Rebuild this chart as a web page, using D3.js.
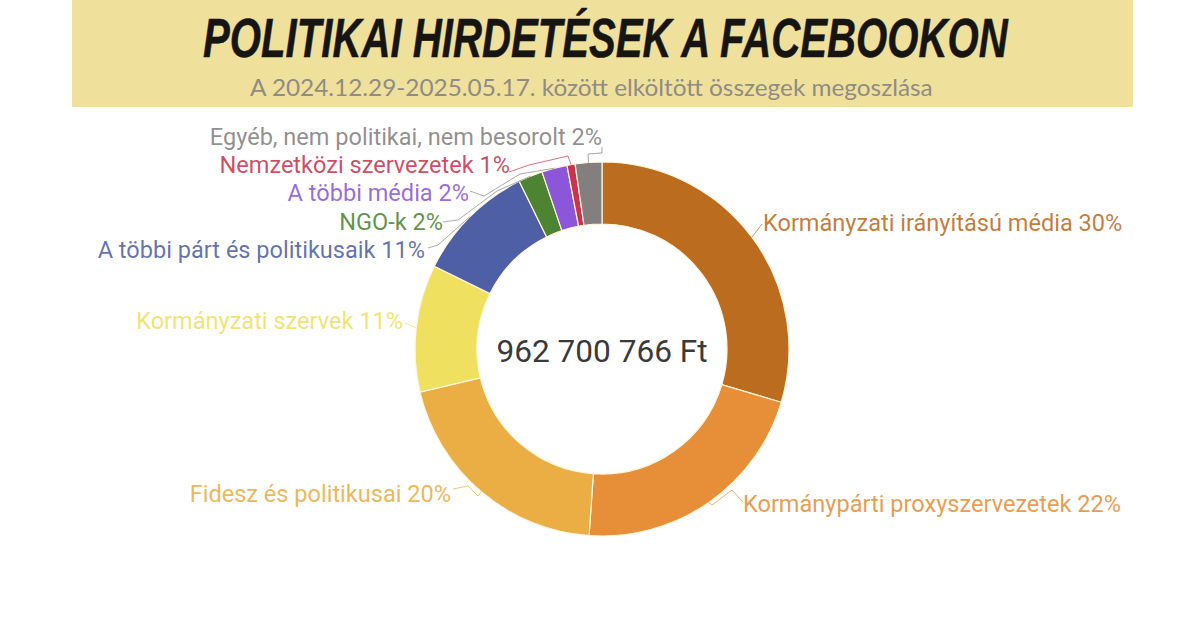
<!DOCTYPE html>
<html>
<head>
<meta charset="utf-8">
<script src="https://cdn.jsdelivr.net/npm/d3@7"></script>
<style>
  html, body { margin: 0; padding: 0; background: #fff; }
  svg { display: block; }
</style>
</head>
<body>
<div id="chart"></div>
<script>
// ─── data ─────────────────────────────────────────────────────────
const categories = [
    "Kormányzati irányítású média",
    "Kormánypárti proxyszervezetek",
    "Fidesz és politikusai",
    "Kormányzati szervek",
    "A többi párt és politikusaik",
    "NGO-k",
    "A többi média",
    "Nemzetközi szervezetek",
    "Egyéb, nem politikai, nem besorolt"
];
// slice sizes (share of the ring, %)
const shares = [29.6, 21.5, 20.2, 11.0, 10.4, 2.1, 2.2, 0.7, 2.3];
// percentages as printed in the labels
const printed = ["30%", "22%", "20%", "11%", "11%", "2%", "2%", "1%", "2%"];
const colors = ["#bc6c1e", "#e68f38", "#eaae45", "#f0e060", "#4f5fa5", "#4c8431", "#8b57d8", "#c9344f", "#837f7f"];

const titleText = "POLITIKAI HIRDETÉSEK A FACEBOOKON";
const subtitleText = "A 2024.12.29-2025.05.17. között elköltött összegek megoszlása";
const totalText = "962 700 766 Ft";

// ─── layout ───────────────────────────────────────────────────────
const width = 1200, height = 630;
const cx = 602, cy = 349;
const outerR = 187, innerR = 125;

// label placement, same order as categories
const labelX = [763, 743, 451, 403, 425, 443, 469, 510, 602];
const labelY = [231, 512, 502, 329, 258, 230, 201, 173, 145];
const labelAnchor = ["start", "start", "end", "end", "end", "end", "end", "end", "end"];

// leader line knees, page coordinates, from the ring out to the label
const leaders = [
    [[762, 224]],
    [[712, 505], [732, 490], [743, 502]],
    [[478, 496], [468, 486], [453, 489]],
    [[405, 323]],
    [[438, 245], [428, 248]],
    [[497, 191], [458, 220], [443, 222]],
    [[520, 174], [484, 196], [470, 191]],
    [[568, 156], [529, 165], [509, 172]],
    [[588, 154], [602, 153], [602, 147]]
];

const svg = d3.select("#chart")
    .append("svg")
    .attr("width", width)
    .attr("height", height)
    .attr("viewBox", `0 0 ${width} ${height}`);

// ─── header band ──────────────────────────────────────────────────
svg.append("rect")
    .attr("x", 72)
    .attr("y", 0)
    .attr("width", 1061)
    .attr("height", 107)
    .attr("fill", "#efe09b");

const title = svg.append("text")
    .style("font-family", "'Liberation Sans Narrow', 'Liberation Sans', sans-serif")
    .style("font-size", "56px")
    .style("font-weight", "700")
    .style("font-style", "italic")
    .style("fill", "#171512")
    .style("stroke", "#171512")
    .style("stroke-width", "0.5px")
    .text(titleText);
// squeeze the title to the width it has in the reference
const titleScale = 805 / title.node().getComputedTextLength();
title.attr("transform", `translate(203, 57) scale(${titleScale}, 1)`);

const subtitle = svg.append("text")
    .style("font-family", "Lato, sans-serif")
    .style("font-size", "23px")
    .style("fill", "#8f8c84")
    .text(subtitleText);
const subtitleScale = 683 / subtitle.node().getComputedTextLength();
subtitle.attr("transform", `translate(250, 96) scale(${subtitleScale}, 1)`);

// ─── donut ────────────────────────────────────────────────────────
const pie = d3.pie().value(d => d).sort(null);
const arc = d3.arc().innerRadius(innerR).outerRadius(outerR);
// sits on the outer edge, used as the start of each leader line
const edgeArc = d3.arc().innerRadius(outerR).outerRadius(outerR);

const slices = pie(shares);
const ring = svg.append("g").attr("transform", `translate(${cx}, ${cy})`);

ring.selectAll("path")
    .data(slices)
    .join("path")
    .attr("d", arc)
    .attr("fill", (d, i) => colors[i])
    .attr("stroke", "#fff6dc")
    .attr("stroke-width", 1.2);

// ── leader lines ──────────────────────────────────────────────────
const line = d3.line();
svg.append("g")
    .selectAll("path")
    .data(slices)
    .join("path")
    .attr("d", (d, i) => {
        const [x, y] = edgeArc.centroid(d);
        return line([[cx + x, cy + y], ...leaders[i]]);
    })
    .attr("fill", "none")
    .attr("stroke", (d, i) => i > 3 && i < 7 ? "#888" : colors[i])
    .attr("stroke-opacity", 0.7)
    .attr("stroke-width", 1);

// ── labels ────────────────────────────────────────────────────────
svg.append("g")
    .selectAll("text")
    .data(categories)
    .join("text")
    .attr("x", (d, i) => labelX[i])
    .attr("y", (d, i) => labelY[i])
    .attr("text-anchor", (d, i) => labelAnchor[i])
    .style("font-family", "Roboto, sans-serif")
    .style("font-size", "23.55px")
    .style("fill", (d, i) => colors[i])
    .style("fill-opacity", 0.88)
    .text((d, i) => `${d} ${printed[i]}`);

svg.append("text")
    .attr("x", cx)
    .attr("y", 362)
    .attr("text-anchor", "middle")
    .style("font-family", "Roboto, sans-serif")
    .style("font-size", "31.6px")
    .style("fill", "#3a3a3a")
    .text(totalText);
</script>
</body>
</html>
